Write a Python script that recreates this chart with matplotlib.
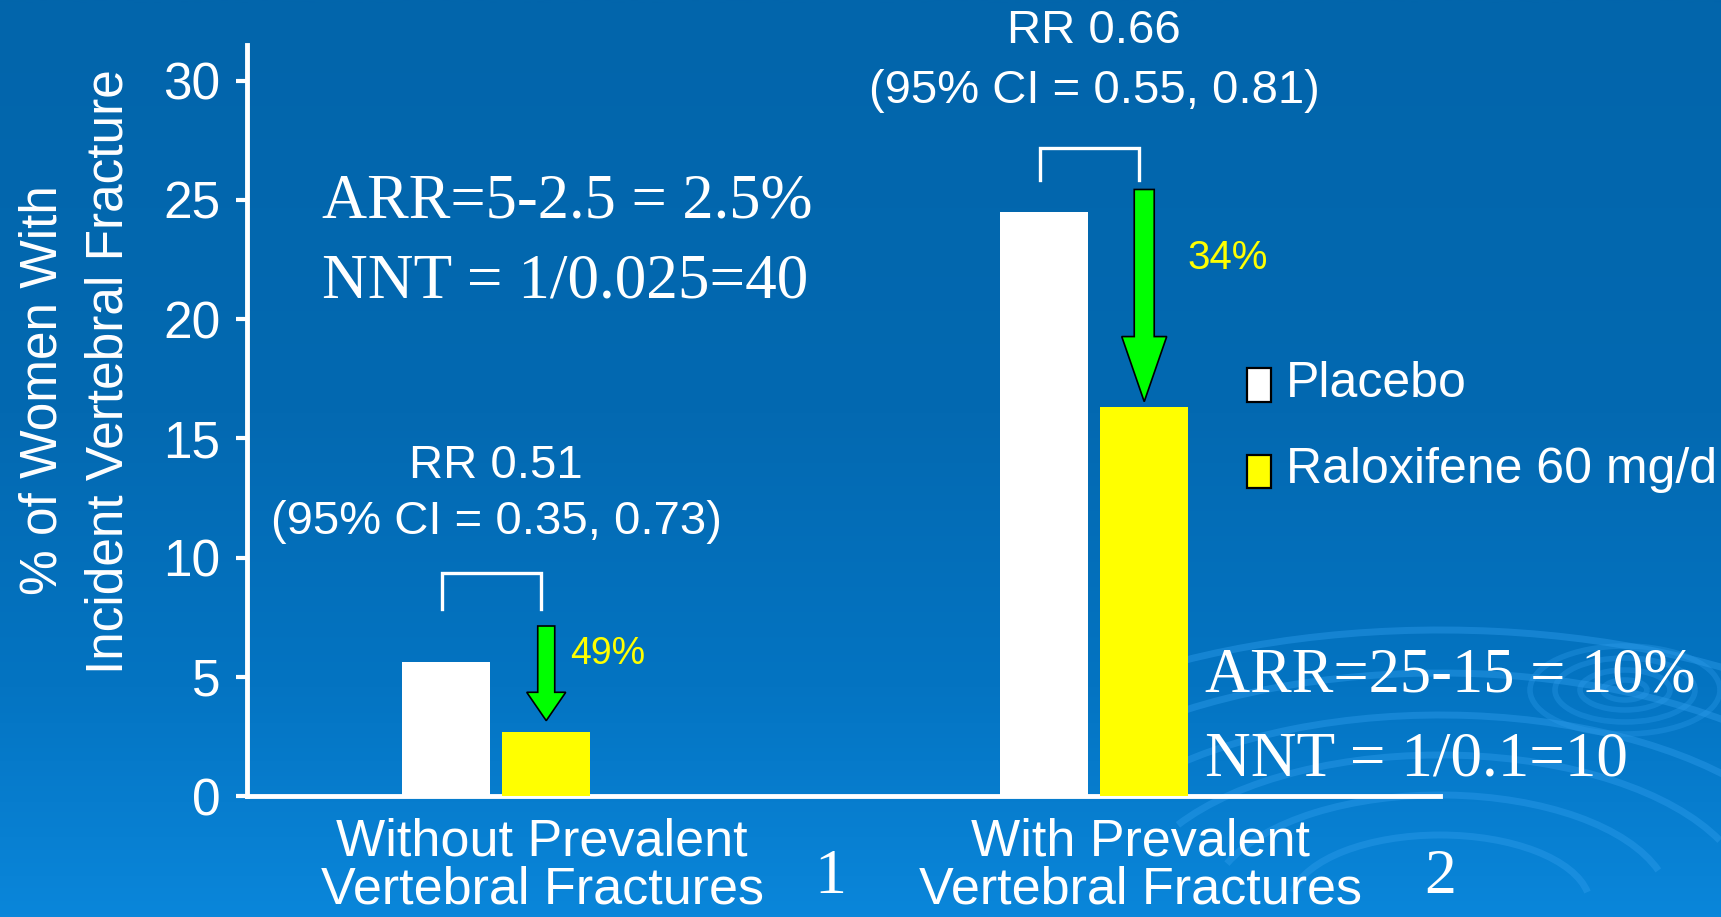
import numpy as np
import matplotlib
matplotlib.use("Agg")
import matplotlib.pyplot as plt
from matplotlib.patches import Rectangle, Polygon, Arc
from matplotlib.colors import LinearSegmentedColormap

# ---- data -------------------------------------------------------------
groups = ["Without Prevalent\nVertebral Fractures", "With Prevalent\nVertebral Fractures"]
footnotes = ["1", "2"]
series_names = ["Placebo", "Raloxifene 60 mg/d"]
placebo = [5.6, 24.5]
raloxifene = [2.7, 16.3]
series_colors = ["#FFFFFF", "#FFFF00"]
rr_labels = ["RR 0.51", "RR 0.66"]
ci_labels = ["(95% CI = 0.35, 0.73)", "(95% CI = 0.55, 0.81)"]
reduction_labels = ["49%", "34%"]
arr_labels = ["ARR=5-2.5 = 2.5%", "ARR=25-15 = 10%"]
nnt_labels = ["NNT = 1/0.025=40", "NNT = 1/0.1=10"]
yticks = [0, 5, 10, 15, 20, 25, 30]
ylabel_lines = ["% of Women With", "Incident Vertebral Fracture"]

# ---- figure -----------------------------------------------------------
W, H = 1721, 917
fig = plt.figure(figsize=(W / 100, H / 100), dpi=100)

SANS = "Liberation Sans"
SERIF = "Liberation Serif"


def fpx(x, y):
    """pixel position (from top-left) -> figure fraction"""
    return x / W, 1 - y / H


# background gradient with ripple decoration
bg = fig.add_axes([0, 0, 1, 1], zorder=-10)
bg.set_xlim(0, W)
bg.set_ylim(H, 0)
bg.axis("off")
cmap = LinearSegmentedColormap.from_list(
    "bgblue",
    [(0.0, "#0265AB"), (0.45, "#0369B1"), (0.75, "#0474C2"), (1.0, "#0A86DA")],
)
grad = np.linspace(0, 1, 400).reshape(-1, 1)
bg.imshow(grad, cmap=cmap, aspect="auto", extent=[0, W, H, 0], zorder=0)

ring_col = "#2C9BEA"
# large ripple rings, lower right
for k, (rx, ry) in enumerate([(150, 70), (230, 110), (310, 150), (390, 190), (470, 232), (560, 275)]):
    bg.add_patch(Arc((1440, 905), 2 * rx, 2 * ry, theta1=185 + 6 * k, theta2=355 - 4 * k,
                     color=ring_col, lw=5, alpha=0.45, zorder=1))
# small ripple near the right edge
for rx, ry in [(22, 10), (45, 20), (70, 32), (95, 44)]:
    bg.add_patch(Arc((1625, 690), 2 * rx, 2 * ry, theta1=0, theta2=360,
                     color=ring_col, lw=4, alpha=0.35, zorder=1))
# faint sweep under the left group
for rx, ry in [(420, 120), (500, 150)]:
    bg.add_patch(Arc((760, 990), 2 * rx, 2 * ry, theta1=100, theta2=170,
                     color=ring_col, lw=5, alpha=0.3, zorder=1))

# ---- main axes --------------------------------------------------------
x0, x1, ytop, ybot = 247, 1440, 45, 796
ax = fig.add_axes([x0 / W, (H - ybot) / H, (x1 - x0) / W, (ybot - ytop) / H])
ax.set_facecolor("none")
ax.set_xlim(-0.4164, 1.5786)
ax.set_ylim(0, 31.5)

pos = np.arange(len(groups))
bw = 0.148
off = 0.084
ax.bar(pos - off, placebo, bw, color=series_colors[0], zorder=3)
ax.bar(pos + off, raloxifene, bw, color=series_colors[1], zorder=3)

for s in ["top", "right"]:
    ax.spines[s].set_visible(False)
for s in ["left", "bottom"]:
    ax.spines[s].set_color("white")
    ax.spines[s].set_linewidth(3.5)
ax.set_xticks([])
ax.set_yticks(yticks)
ax.tick_params(axis="y", colors="white", length=8, width=3, pad=11,
               labelsize=37, direction="out")
for t in ax.get_yticklabels():
    t.set_fontfamily(SANS)

# y label, two rotated lines
fig.text(*fpx(57, 390), ylabel_lines[0], rotation=90, rotation_mode="anchor",
         ha="center", va="baseline", color="white", fontsize=37, family=SANS)
fig.text(*fpx(123, 372), ylabel_lines[1], rotation=90, rotation_mode="anchor",
         ha="center", va="baseline", color="white", fontsize=37, family=SANS)

# brackets between placebo and raloxifene
bracket_top = [9.35, 27.17]
bracket_leg = [1.5, 1.33]
for i in range(len(groups)):
    xl, xr = pos[i] - 0.090, pos[i] + 0.076
    yt = bracket_top[i]
    ax.plot([xl, xl, xr, xr], [yt - bracket_leg[i], yt, yt, yt - bracket_leg[i]],
            color="white", lw=2.4, solid_joinstyle="miter", zorder=4, clip_on=False)

# reduction arrows
arrow_top = [7.13, 25.44]
shaft_w = [0.0142, 0.0167]
head_w = [0.0326, 0.0376]
head_len = [1.19, 2.73]
for i in range(len(groups)):
    xc = pos[i] + off
    tip = raloxifene[i] + (0.46 if i == 0 else 0.24)
    hs = tip + head_len[i]
    sw, hw = shaft_w[i], head_w[i]
    verts = [(xc - sw, arrow_top[i]), (xc + sw, arrow_top[i]), (xc + sw, hs),
             (xc + hw, hs), (xc, tip), (xc - hw, hs), (xc - sw, hs)]
    ax.add_patch(Polygon(verts, closed=True, facecolor="#00FF00",
                         edgecolor="black", lw=1.2, zorder=5))

# percentage reduction labels
ax.text(0.124, 5.54, reduction_labels[0], color="#FFFF00", fontsize=27,
        family=SANS, ha="left", va="baseline")
ax.text(1.157, 22.1, reduction_labels[1], color="#FFFF00", fontsize=29,
        family=SANS, ha="left", va="baseline")

# RR / CI annotations
rr_base = [(13.34, 10.99), (31.58, 29.05)]
for i in range(len(groups)):
    ax.text(pos[i], rr_base[i][0], rr_labels[i], color="white", fontsize=34,
            family=SANS, ha="center", va="baseline", clip_on=False)
    ax.text(pos[i], rr_base[i][1], ci_labels[i], color="white", fontsize=34,
            family=SANS, ha="center", va="baseline", clip_on=False)

# ARR / NNT blocks
arr_pos = [(-0.2915, 24.25, 20.89), (1.185, 4.40, 0.88)]
for i in range(len(groups)):
    xa, ya, yb = arr_pos[i]
    ax.text(xa, ya, arr_labels[i], color="white", fontsize=45, family=SERIF,
            ha="left", va="baseline", clip_on=False)
    ax.text(xa, yb, nnt_labels[i], color="white", fontsize=45.5, family=SERIF,
            ha="left", va="baseline", clip_on=False)

# category labels below the axis
trans = ax.get_xaxis_transform()
for i, g in enumerate(groups):
    l1, l2 = g.split("\n")
    xc = pos[i] + 0.077
    ax.text(xc, -(855 - ybot) / (ybot - ytop), l1, transform=trans, color="white",
            fontsize=37.5, family=SANS, ha="center", va="baseline", clip_on=False)
    ax.text(xc, -(904 - ybot) / (ybot - ytop), l2, transform=trans, color="white",
            fontsize=37.5, family=SANS, ha="center", va="baseline", clip_on=False)
    ax.text(pos[i] + 0.5585 + (0.02 if i == 1 else 0), -(893 - ybot) / (ybot - ytop),
            footnotes[i], transform=trans, color="white", fontsize=46, family=SERIF,
            ha="center", va="baseline", clip_on=False)

# legend
leg_rows = [(367.7, 401.7, 396.7), (455.0, 488.3, 483.3)]
for (yt, yb, base), name, col in zip(leg_rows, series_names, series_colors):
    fx, fy = fpx(1246.7, yb)
    fig.patches.append(Rectangle((fx, fy), 24 / W, (yb - yt) / H, transform=fig.transFigure,
                                 facecolor=col, edgecolor="black", lw=1.6, zorder=6))
    fig.text(*fpx(1286, base), name, color="white", fontsize=36, family=SANS,
             ha="left", va="baseline")

fig.savefig("out.png", dpi=100)
